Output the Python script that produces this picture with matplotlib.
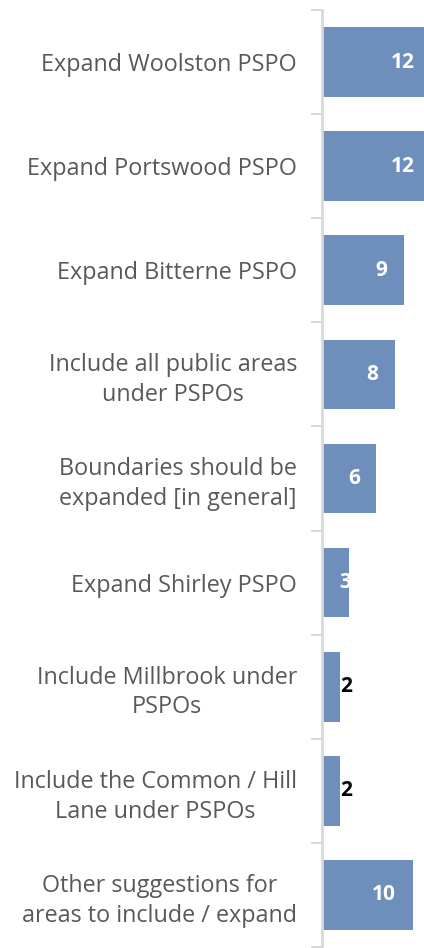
import matplotlib.pyplot as plt

categories = [
    "Expand Woolston PSPO",
    "Expand Portswood PSPO",
    "Expand Bitterne PSPO",
    "Include all public areas\nunder PSPOs",
    "Boundaries should be\nexpanded [in general]",
    "Expand Shirley PSPO",
    "Include Millbrook under\nPSPOs",
    "Include the Common / Hill\nLane under PSPOs",
    "Other suggestions for\nareas to include / expand",
]
counts = [12, 12, 9, 8, 6, 3, 2, 2, 10]

plt.rcParams['font.family'] = ['Open Sans', 'DejaVu Sans']

W, H = 424, 948
fig = plt.figure(figsize=(W / 100, H / 100), dpi=100)
ax = fig.add_axes([322 / W, 1 - 947 / H, (W - 322) / W, 937 / H])

n = len(categories)
ypos = list(range(n))
ax.barh(ypos, counts, height=0.67, color='#6E8FBB', zorder=2)

ax.set_xlim(0, (W - 322) / 9.08)
ax.set_ylim(n - 0.5, -0.5)

# boundary ticks
ax.set_yticks([i - 0.5 for i in range(n + 1)])
ax.set_yticklabels([])
ax.tick_params(axis='y', which='major', length=8, width=1.5, color='#D9D9D9')
# category labels
ax.set_yticks(ypos, minor=True)
ax.set_yticklabels(categories, minor=True, fontsize=16.8, color='#595959',
                   multialignment='center', linespacing=1.32)
ax.tick_params(axis='y', which='minor', length=0, pad=18)

ax.set_xticks([])
for s in ['top', 'right', 'bottom']:
    ax.spines[s].set_visible(False)
ax.spines['left'].set_color('#D9D9D9')
ax.spines['left'].set_linewidth(2)

for y, v in zip(ypos, counts):
    if v >= 6:
        ax.annotate(str(v), (v, y), xytext=(-12, 0), textcoords='offset points',
                    ha='right', va='center', color='white', fontsize=15,
                    fontweight='bold', annotation_clip=False)
    elif v >= 3:
        ax.annotate(str(v), (v, y), xytext=(-3, 0), textcoords='offset points',
                    ha='center', va='center', color='white', fontsize=15,
                    fontweight='bold')
    else:
        ax.annotate(str(v), (v, y), xytext=(4, 0), textcoords='offset points',
                    ha='center', va='center', color='black', fontsize=15,
                    fontweight='bold')

fig.savefig('out.png', dpi=100)
